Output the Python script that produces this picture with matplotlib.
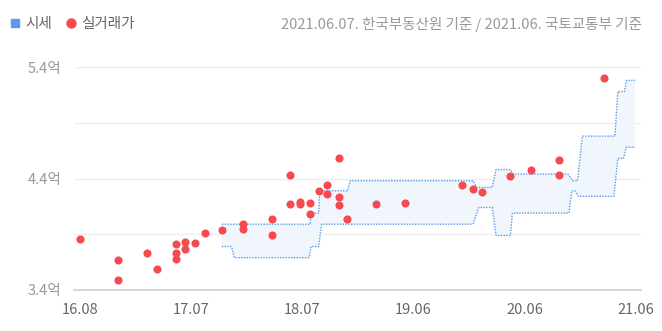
import numpy as np
import matplotlib
matplotlib.use("Agg")
import matplotlib.pyplot as plt
from matplotlib.lines import Line2D

plt.rcParams["font.family"] = ["Noto Sans CJK KR", "DejaVu Sans"]

# x values: months since 2016.08
# ---- 실거래가 (actual deals) ----
deal_month = [0, 4, 4, 7, 8, 10, 10, 10, 11, 11, 12, 13, 14.8, 17, 17, 20, 20,
              21.9, 21.9, 22.9, 22.9, 24, 24, 24.9, 25.8, 25.8, 27, 27, 27, 27.9,
              30.9, 33.9, 39.8, 41, 41.9, 44.9, 47, 50, 50, 54.7]
deal_price = [3.86, 3.67, 3.49, 3.73, 3.59, 3.81, 3.73, 3.68, 3.83, 3.77, 3.82,
              3.91, 3.94, 3.99, 3.95, 4.04, 3.89, 4.43, 4.17, 4.19, 4.17, 4.18,
              4.08, 4.29, 4.34, 4.26, 4.58, 4.23, 4.16, 4.04, 4.17, 4.18, 4.34,
              4.31, 4.28, 4.42, 4.48, 4.57, 4.43, 5.30]

# ---- 시세 (price band) ----
upper_month = [14.8, 24.0, 24.1, 24.9, 25.0, 27.9, 28.2, 41.0, 41.4, 43.0, 43.4,
               44.9, 45.2, 50.9, 51.4, 51.9, 52.4, 55.8, 56.1, 56.8, 57.0, 57.9]
upper_price = [3.99, 3.99, 4.09, 4.09, 4.29, 4.29, 4.38, 4.38, 4.32, 4.32, 4.48,
               4.48, 4.44, 4.44, 4.38, 4.38, 4.78, 4.78, 5.18, 5.18, 5.28, 5.28]
lower_month = [14.8, 15.8, 16.1, 23.9, 24.1, 24.9, 25.2, 41.0, 41.6, 43.0, 43.4,
               44.9, 45.1, 51.0, 51.3, 51.6, 52.0, 55.7, 56.1, 56.7, 57.0, 57.9]
lower_price = [3.79, 3.79, 3.69, 3.69, 3.79, 3.79, 3.99, 3.99, 4.14, 4.14, 3.89,
               3.89, 4.09, 4.09, 4.29, 4.29, 4.24, 4.24, 4.58, 4.58, 4.68, 4.68]

x_ticks = np.linspace(0, 58, 6)
x_labels = ["16.08", "17.07", "18.07", "19.06", "20.06", "21.06"]
y_ticks = [3.4, 3.9, 4.4, 4.9, 5.4]
y_labels = ["3.4억", "", "4.4억", "", "5.4억"]

band_color = "#5a9be6"
deal_color = "#f74a50"

fig = plt.figure(figsize=(6.62, 3.31), dpi=100)
ax = fig.add_axes([74 / 662, 41 / 331, 567 / 662, 223 / 331])

# band fill + dotted edges
poly_x = np.concatenate([upper_month, lower_month[::-1]])
poly_y = np.concatenate([upper_price, lower_price[::-1]])
ax.fill(poly_x, poly_y, color="#f0f6fc", lw=0, zorder=1)
ax.plot(upper_month, upper_price, color=band_color, lw=1, ls=(0, (1, 1)), zorder=2)
ax.plot(lower_month, lower_price, color=band_color, lw=1, ls=(0, (1, 1)), zorder=2)

ax.scatter(deal_month, deal_price, s=34, color=deal_color, lw=0, zorder=3)

ax.set_xlim(-0.63, 58.52)
ax.set_ylim(3.4, 5.4)
ax.set_xticks(x_ticks)
ax.set_xticklabels(x_labels)
ax.set_yticks(y_ticks)
ax.set_yticklabels(y_labels)
ax.tick_params(axis="both", length=0, labelsize=10.5)
ax.tick_params(axis="x", pad=9, labelcolor="#666666")
ax.tick_params(axis="y", pad=9, labelcolor="#999999")
ax.grid(axis="y", color="#eeeeee", lw=1)
ax.set_axisbelow(True)
for side in ["top", "right", "left"]:
    ax.spines[side].set_visible(False)
ax.spines["bottom"].set_color("#cccccc")
ax.spines["bottom"].set_linewidth(1.2)
ax.spines["bottom"].set_zorder(0.5)

# legend + source note
handles = [
    Line2D([], [], marker="s", ls="", color=band_color, markersize=5.5),
    Line2D([], [], marker="o", ls="", color=deal_color, markersize=6.5),
]
fig.legend(handles, ["시세", "실거래가"], loc="center left",
           bbox_to_anchor=(11 / 662, 1 - 24 / 331), frameon=False, ncol=2,
           fontsize=10.5, labelcolor="#666666", handlelength=0.6,
           handletextpad=0.4, columnspacing=1.0, borderpad=0, borderaxespad=0)
fig.text(642 / 662, 1 - 24 / 331, "2021.06.07. 한국부동산원 기준 / 2021.06. 국토교통부 기준",
         ha="right", va="center", fontsize=10.5, color="#999999")

fig.savefig("out.png", dpi=100)
